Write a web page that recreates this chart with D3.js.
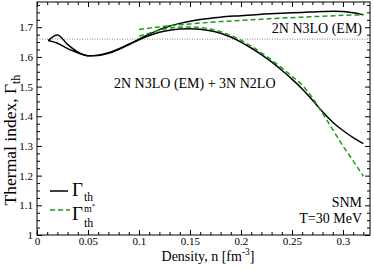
<!DOCTYPE html>
<html><head><meta charset="utf-8">
<script src="https://cdn.jsdelivr.net/npm/d3@7"></script>
<style>
body{margin:0;background:#fff;}
svg{display:block;font-family:"Liberation Serif","Times New Roman","DejaVu Serif",serif;}
</style></head>
<body><svg id="c" width="374" height="270"></svg>
<script>
// ---- data ----
const n2N = [0.011,0.02,0.03,0.04,0.05,0.06,0.07,0.08,0.09,0.10,0.11,0.12,0.13,0.14,0.15,0.16,0.18,0.20,0.22,0.24,0.26,0.28,0.29,0.30,0.31,0.32];
const g2N = [1.655,1.674,1.642,1.616,1.604,1.606,1.614,1.627,1.643,1.660,1.677,1.692,1.704,1.713,1.720,1.726,1.734,1.739,1.744,1.747,1.750,1.753,1.754,1.753,1.749,1.742];
const n2N3N = [0.011,0.02,0.03,0.04,0.05,0.06,0.07,0.08,0.09,0.10,0.11,0.12,0.13,0.14,0.15,0.16,0.17,0.18,0.19,0.20,0.21,0.22,0.23,0.24,0.25,0.26,0.27,0.28,0.29,0.30,0.31,0.32];
const g2N3N = [1.655,1.646,1.628,1.614,1.604,1.605,1.612,1.625,1.641,1.658,1.672,1.683,1.690,1.694,1.695,1.693,1.688,1.680,1.667,1.650,1.630,1.608,1.583,1.555,1.525,1.492,1.455,1.415,1.380,1.352,1.328,1.308];
const nM2N = [0.10,0.11,0.12,0.13,0.14,0.15,0.16,0.18,0.20,0.22,0.24,0.26,0.28,0.30,0.32];
const gM2N = [1.692,1.697,1.701,1.705,1.708,1.711,1.714,1.719,1.723,1.727,1.731,1.734,1.737,1.740,1.742];
const nM2N3N = [0.10,0.11,0.12,0.13,0.14,0.15,0.16,0.17,0.18,0.19,0.20,0.21,0.22,0.23,0.24,0.25,0.26,0.27,0.28,0.29,0.30,0.31,0.32];
const gM2N3N = [1.670,1.680,1.690,1.697,1.700,1.701,1.699,1.694,1.685,1.672,1.656,1.636,1.614,1.590,1.563,1.535,1.505,1.462,1.410,1.355,1.300,1.250,1.198];
const refLine = 1.66;
const xTicks = [0,0.05,0.1,0.15,0.2,0.25,0.3];
const xTickLabels = ["0","0.05","0.1","0.15","0.2","0.25","0.3"];
const yTicks = [1,1.1,1.2,1.3,1.4,1.5,1.6,1.7];
const yTickLabels = ["1","1.1","1.2","1.3","1.4","1.5","1.6","1.7"];

// ---- layout ----
const L=37,R=370,T=2,B=235;
const FONT="Liberation Serif, Times New Roman, DejaVu Serif, serif";
const svg=d3.select("#c");
const x=d3.scaleLinear().domain([0,0.3265]).range([L,R]);
const y=d3.scaleLinear().domain([1,1.785]).range([B,T]);
const green="#1f9a1f";

const xMinor=d3.range(0,0.3265,0.01).filter(v=>Math.abs(v*20-Math.round(v*20))>1e-6);
const yMinor=d3.range(1,1.785,0.025).filter(v=>Math.abs(v*10-Math.round(v*10))>1e-6);

function ax(gen,tr,ticks,size,fmt,pad){
  const g=svg.append("g").attr("transform",tr)
    .call(gen.tickValues(ticks).tickSize(size).tickPadding(pad||4).tickFormat(fmt));
  g.attr("font-family",FONT);
  g.select(".domain").remove();
  g.selectAll("line").attr("stroke","#000").attr("stroke-width",1);
  g.selectAll("text").attr("font-family",FONT).attr("font-size",11).attr("fill","#000");
  return g;
}
ax(d3.axisBottom(x),`translate(0,${B})`,xTicks,-5,(d,i)=>xTickLabels[i],2);
ax(d3.axisBottom(x),`translate(0,${B})`,xMinor,-3,()=>"");
ax(d3.axisTop(x),`translate(0,${T})`,xTicks,-5,()=>"");
ax(d3.axisTop(x),`translate(0,${T})`,xMinor,-3,()=>"");
ax(d3.axisLeft(y),`translate(${L},0)`,yTicks,-5,(d,i)=>yTickLabels[i],4);
ax(d3.axisLeft(y),`translate(${L},0)`,yMinor,-3,()=>"");
ax(d3.axisRight(y),`translate(${R},0)`,yTicks,-5,()=>"");
ax(d3.axisRight(y),`translate(${R},0)`,yMinor,-3,()=>"");

svg.append("rect").attr("x",L).attr("y",T).attr("width",R-L).attr("height",B-T)
  .attr("fill","none").attr("stroke","#000").attr("stroke-width",1);

// reference dotted line
svg.append("line").attr("x1",L).attr("x2",R).attr("y1",y(refLine)).attr("y2",y(refLine))
  .attr("stroke","#666").attr("stroke-width",0.8).attr("stroke-dasharray","1,1.5");

const line=d3.line().x(d=>x(d[0])).y(d=>y(d[1])).curve(d3.curveMonotoneX);
function series(ns,gs,col,dash){
  svg.append("path").datum(ns.map((v,i)=>[v,gs[i]])).attr("d",line)
    .attr("fill","none").attr("stroke",col).attr("stroke-width",1.5)
    .attr("stroke-dasharray",dash||null);
}
series(n2N,g2N,"#000");
series(n2N3N,g2N3N,"#000");
series(nM2N,gM2N,green,"5,3");
series(nM2N3N,gM2N3N,green,"5,3");

// annotations
const txt=(s,xx,yy,sz,anchor)=>svg.append("text").attr("x",xx).attr("y",yy).attr("font-size",sz)
  .attr("font-family",FONT).attr("text-anchor",anchor||"start").attr("fill","#000").text(s);
txt("2N N3LO (EM)",362,33,14,"end");
txt("2N N3LO (EM) + 3N N2LO",114,88,14);
txt("SNM",362,207,14,"end");
txt("T=30 MeV",362,223,14,"end");

// x label
const xl=svg.append("text").attr("x",208).attr("y",261).attr("font-size",14).attr("font-family",FONT).attr("text-anchor","middle");
xl.append("tspan").text("Density, n [fm");
xl.append("tspan").attr("dy",-6).attr("font-size",9.5).text("-3");
xl.append("tspan").attr("dy",6).text("]");

// y label
const yl=svg.append("text").attr("transform","translate(16,140) rotate(-90)").attr("font-size",17.5).attr("font-family",FONT).attr("text-anchor","middle");
yl.append("tspan").text("Thermal index, Γ");
yl.append("tspan").attr("dy",4).attr("font-size",12).text("th");

// legend
svg.append("line").attr("x1",50).attr("x2",68).attr("y1",191).attr("y2",191).attr("stroke","#000").attr("stroke-width",1.5);
svg.append("line").attr("x1",50).attr("x2",70).attr("y1",210).attr("y2",210).attr("stroke",green).attr("stroke-width",1.5).attr("stroke-dasharray","5,3");
const l1=svg.append("text").attr("x",72).attr("y",196).attr("font-size",19).attr("font-family",FONT);
l1.append("tspan").text("Γ");
l1.append("tspan").attr("x",84).attr("y",201).attr("font-size",11.5).text("th");
const l2=svg.append("text").attr("x",72).attr("y",220).attr("font-size",19).attr("font-family",FONT);
l2.append("tspan").text("Γ");
l2.append("tspan").attr("x",84).attr("y",212).attr("font-size",10).text("m");
l2.append("tspan").attr("y",208).attr("font-size",7).text("*");
l2.append("tspan").attr("x",84).attr("y",227).attr("font-size",12).text("th");
</script></body></html>
